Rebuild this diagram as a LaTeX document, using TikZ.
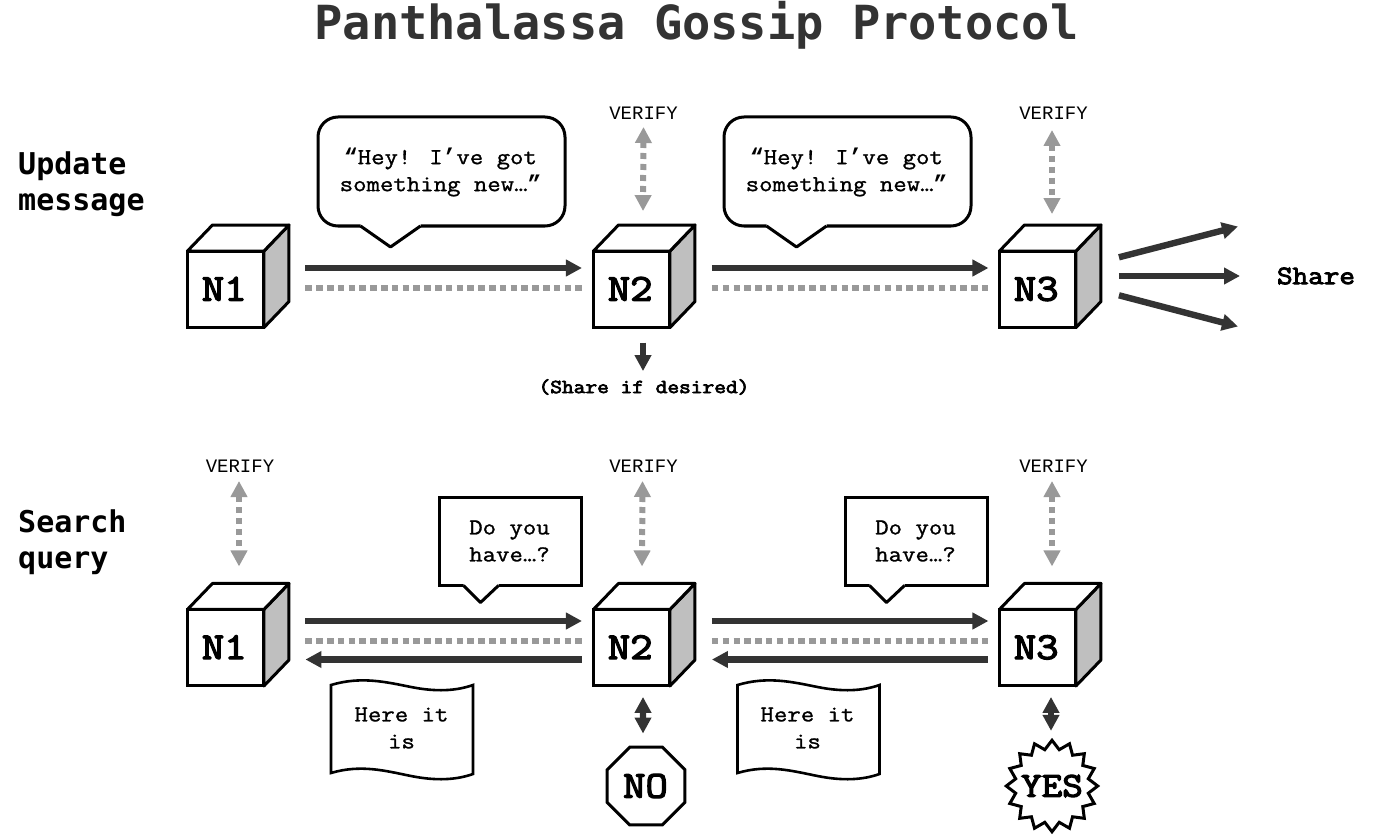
\documentclass[tikz,border=0pt]{standalone}
\usepackage{fontspec}
\usetikzlibrary{arrows.meta,shapes.geometric,calc}
\newfontfamily\libmono{Liberation Mono}
\newfontfamily\djmono{DejaVu Sans Mono}
\newfontfamily\courreg{Latin Modern Mono}[FakeBold=1.2,FakeStretch=1.143]
\newfontfamily\courbold{Latin Modern Mono}[FakeBold=3.5,FakeStretch=1.143]
\newcommand{\qm}[1]{{\libmono\bfseries #1}}
\definecolor{ink}{HTML}{333333}
\definecolor{dots}{HTML}{999999}
\definecolor{sideface}{HTML}{BFBFBF}
\tikzset{
  x=1pt,y=-1pt,
  solidarrow/.style={draw=ink,line width=6.4pt,-{Triangle[length=16pt,width=16pt]}},
  backarrow/.style={draw=ink,line width=6.4pt,{Triangle[length=16pt,width=16pt]}-},
  twoway/.style={draw=ink,line width=6.4pt,{Triangle[length=16pt,width=16pt]}-{Triangle[length=16pt,width=16pt]}},
  dotline/.style={draw=dots,line width=6pt,dash pattern=on 6.5pt off 4.3pt},
  verifyarrow/.style={draw=dots,line width=6pt,dash pattern=on 6pt off 5pt,{Triangle[length=16pt,width=16pt]}-{Triangle[length=16pt,width=16pt]}},
  cubefront/.style={draw=black,line width=3pt,fill=white,minimum width=76.5pt,minimum height=76.5pt,inner sep=0pt,outer sep=0pt,font=\courbold\fontsize{38}{38}\selectfont},
  cubeline/.style={draw=black,line width=3pt,line join=round},
  txt/.style={font=\courreg\fontsize{22.8}{27}\selectfont,align=center,inner sep=0pt},
  verifytxt/.style={font=\libmono\fontsize{19}{19}\selectfont,text=black,inner sep=0pt},
  heading/.style={font=\djmono\bfseries\fontsize{30}{36}\selectfont,align=left,anchor=west,inner sep=0pt,text=black},
  bubble/.style={draw=black,line width=3pt,fill=white,outer sep=0pt},
  sharetxt/.style={font=\courbold\fontsize{26.5}{26}\selectfont,inner sep=0pt},
}
\newcommand{\cubebox}[4]{%
  \node[cubefront] (#1) at (#2,#3) {\raisebox{1pt}{\kern-3pt #4}};
  \draw[cubeline,fill=sideface] (#1.north east) -- ++(25,-26) -- ++(0,76.5) -- (#1.south east) -- cycle;
  \draw[cubeline,fill=white] (#1.north west) -- ++(25,-26) -- ++(76.5,0) -- (#1.north east) -- cycle;
}
\newcommand{\roundbubble}[4]{%
  \node[bubble,rounded corners=20pt,minimum width=247pt,minimum height=109pt] (#1) at (#2,#3) {};
  \fill[white] ($(#1.south)+(#4-30,-2.5)$) -- ($(#1.south)+(#4-30,0)$) -- ($(#1.south)+(#4,21)$) -- ($(#1.south)+(#4+30,0)$) -- ($(#1.south)+(#4+30,-2.5)$) -- cycle;
  \draw[line width=3pt,line join=round] ($(#1.south)+(#4-30,0)$) -- ($(#1.south)+(#4,21)$) -- ($(#1.south)+(#4+30,0)$);
}
\newcommand{\squarebubble}[3]{%
  \node[bubble,minimum width=142pt,minimum height=88pt] (#1) at (#2,#3) {};
  \fill[white] ($(#1.south)+(-47,-2.5)$) -- ($(#1.south)+(-47,0)$) -- ($(#1.south)+(-30,17)$) -- ($(#1.south)+(-12,0)$) -- ($(#1.south)+(-12,-2.5)$) -- cycle;
  \draw[line width=3pt,line join=round] ($(#1.south)+(-47,0)$) -- ($(#1.south)+(-30,17)$) -- ($(#1.south)+(-12,0)$);
}
\newcommand{\wavedoc}[2]{% name, left x
  \draw[line width=2.6pt,fill=white,line join=miter] (#2,685)
    .. controls (#2+30,676) and (#2+55,682) .. (#2+80,687)
    .. controls (#2+105,692) and (#2+125,691) .. (#2+142,685)
    -- (#2+142,774)
    .. controls (#2+125,780) and (#2+105,781) .. (#2+80,776)
    .. controls (#2+55,771) and (#2+30,764) .. (#2,773) -- cycle;
  \coordinate (#1) at (#2+71,729);
}
\begin{document}
\begin{tikzpicture}
\useasboundingbox[fill=white] (0,0) rectangle (1373,837);

\node[font=\djmono\bfseries\fontsize{47}{47}\selectfont,text=ink,inner sep=0pt] (title) at (696.5,25.5) {Panthalassa Gossip Protocol};
\node[heading] (h1) at (18,184) {Update\\message};
\node[heading] (h2) at (18,542) {Search\\query};

% top row
\cubebox{ua}{225.7}{289.3}{N1}
\cubebox{ub}{631.7}{289.3}{N2}
\cubebox{uc}{1037.7}{289.3}{N3}

\roundbubble{b1}{441.5}{171.5}{-51}
\node[txt] (b1t) at (440.5,172) {\qm{“}Hey! I\qm{’}ve got\\something new…\qm{”}};
\roundbubble{b2}{847.5}{171.5}{-51}
\node[txt] (b2t) at (846.5,172) {\qm{“}Hey! I\qm{’}ve got\\something new…\qm{”}};

\draw[solidarrow] ([xshift=41.5pt,yshift=21.3pt]ua.east) -- ([xshift=-11.5pt,yshift=21.3pt]ub.west);
\draw[dotline] ([xshift=41.5pt,yshift=1.3pt]ua.east) -- ([xshift=-11.5pt,yshift=1.3pt]ub.west);
\draw[solidarrow] ([xshift=42pt,yshift=21.3pt]ub.east) -- ([xshift=-11pt,yshift=21.3pt]uc.west);
\draw[dotline] ([xshift=42pt,yshift=1.3pt]ub.east) -- ([xshift=-11pt,yshift=1.3pt]uc.west);

\node[verifytxt] (v1) at (643.5,113) {VERIFY};
\node[verifytxt] (v2) at (1053.5,113) {VERIFY};
\draw[verifyarrow] ([yshift=-14pt]v1.center) -- ([xshift=11.3pt,yshift=40pt]ub.north);
\draw[verifyarrow] ([xshift=-1.5pt,yshift=-17pt]v2.center) -- ([xshift=14.3pt,yshift=37pt]uc.north);

\coordinate (s1) at (1238,226.5);
\coordinate (s2) at (1240,276);
\coordinate (s3) at (1238,326.5);
\draw[solidarrow] ([xshift=43pt,yshift=32pt]uc.east) -- (s1);
\draw[solidarrow] ([xshift=43pt,yshift=13.3pt]uc.east) -- (s2);
\draw[solidarrow] ([xshift=43pt,yshift=-6pt]uc.east) -- (s3);
\node[sharetxt] (share) at (1316,276) {Share};

\node[font=\courbold\fontsize{19.9}{20}\selectfont,inner sep=0pt] (sd) at (644,387) {(Share if desired)};
\draw[solidarrow] ([xshift=11.3pt,yshift=-15pt]ub.south) -- ([yshift=8pt]sd.north -| 643,0);

% bottom row
\cubebox{qa}{225.7}{647.7}{N1}
\cubebox{qb}{631.7}{647.7}{N2}
\cubebox{qc}{1037.7}{647.7}{N3}

\node[verifytxt] (v3) at (240,466) {VERIFY};
\node[verifytxt] (v4) at (643.5,466) {VERIFY};
\node[verifytxt] (v5) at (1053.5,466) {VERIFY};
\draw[verifyarrow] ([xshift=-1pt,yshift=-15pt]v3.center) -- ([xshift=13.3pt,yshift=43pt]qa.north);
\draw[verifyarrow] ([xshift=-1pt,yshift=-15pt]v4.center) -- ([xshift=10.3pt,yshift=43pt]qb.north);
\draw[verifyarrow] ([xshift=-1.5pt,yshift=-15pt]v5.center) -- ([xshift=14.3pt,yshift=43pt]qc.north);

\squarebubble{d1}{510.5}{541.5}
\node[txt] (d1t) at (509.5,541) {Do you\\have…?};
\squarebubble{d2}{916.5}{541.5}
\node[txt] (d2t) at (915.5,541) {Do you\\have…?};

\draw[solidarrow] ([xshift=41.5pt,yshift=26.7pt]qa.east) -- ([xshift=-11.5pt,yshift=26.7pt]qb.west);
\draw[dotline] ([xshift=41.5pt,yshift=7pt]qa.east) -- ([xshift=-11.5pt,yshift=7pt]qb.west);
\draw[backarrow] ([xshift=41.5pt,yshift=-11.8pt]qa.east) -- ([xshift=-11.5pt,yshift=-11.8pt]qb.west);
\draw[solidarrow] ([xshift=42pt,yshift=26.7pt]qb.east) -- ([xshift=-11pt,yshift=26.7pt]qc.west);
\draw[dotline] ([xshift=42pt,yshift=7pt]qb.east) -- ([xshift=-11pt,yshift=7pt]qc.west);
\draw[backarrow] ([xshift=42pt,yshift=-11.8pt]qb.east) -- ([xshift=-11pt,yshift=-11.8pt]qc.west);

\wavedoc{w1}{331}
\node[txt] (w1t) at (401.5,728) {Here it\\is};
\wavedoc{w2}{737.5}
\node[txt] (w2t) at (807.5,728) {Here it\\is};

\node[regular polygon,regular polygon sides=8,draw=black,line width=3pt,inner sep=0pt,minimum size=84.4pt,font=\courbold\fontsize{38}{38}\selectfont] (no) at (646,786) {\kern-1pt NO};
\node[star,star points=16,star point ratio=1.235,draw=black,line width=3pt,inner sep=0pt,minimum size=91.4pt] (yes) at (1052,786) {};
\node[font=\courbold\fontsize{35}{35}\selectfont,inner sep=0pt] (yestxt) at (yes.center) {YES};
\draw[twoway] ([xshift=11.3pt,yshift=-11pt]qb.south) -- ([xshift=-3pt,yshift=12pt]no.north);
\draw[twoway] ([xshift=13.3pt,yshift=-11pt]qc.south) -- ([xshift=-1pt,yshift=7pt]yes.north);
\end{tikzpicture}
\end{document}
